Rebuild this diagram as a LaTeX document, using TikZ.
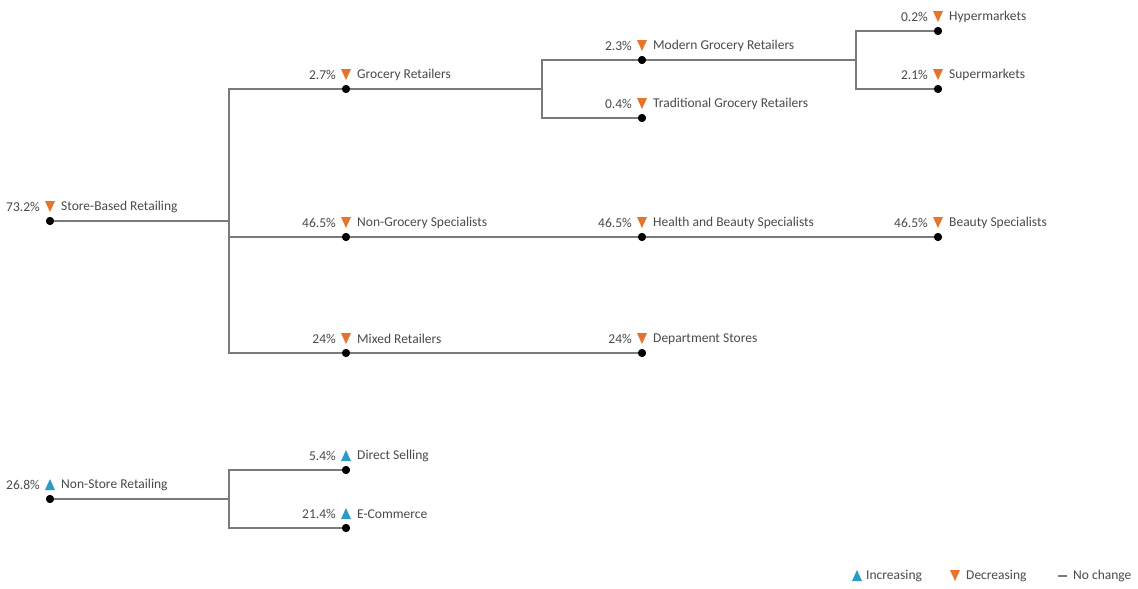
\documentclass[tikz,border=0pt]{standalone}
\usepackage{fontspec}
\setmainfont{Carlito}
\definecolor{decc}{HTML}{E8732A}
\definecolor{incc}{HTML}{2E9BC6}
\definecolor{linec}{HTML}{7A7A7A}
\definecolor{txtc}{HTML}{4A4A4A}
\newcommand\mkdown[1]{\fill[decc] (#1) ++(-5,-20) -- ++(10,0) -- ++(-5,11) -- cycle;}
\newcommand\mkup[1]{\fill[incc] (#1) ++(-5,-9) -- ++(10,0) -- ++(-5,-11) -- cycle;}
\newcommand\mklabel[3]{\path (#1) ++(-10,-14) node[pct]{#2} (#1) ++(11,-14) node[nm]{#3};}
\begin{document}
\begin{tikzpicture}[x=1pt,y=-1pt,
  dot/.style={circle,fill=black,inner sep=0pt,minimum size=8pt},
  conn/.style={draw=linec,line width=1.4pt},
  pct/.style={anchor=east,inner sep=0pt,text=txtc,font=\fontsize{13.5}{15}\selectfont},
  nm/.style={anchor=west,inner sep=0pt,text=txtc,font=\fontsize{13.5}{15}\selectfont}]
\useasboundingbox[fill=white] (0,0) rectangle (1138,589);
% branch coordinates
\coordinate (b0) at (229,221);
\coordinate (b1) at (542,89);
\coordinate (b2) at (856,60);
\coordinate (b3) at (229,499);
\node[dot] (sb) at (50,221) {};
\node[dot] (gr) at (346,89) {};
\node[dot] (ng) at (346,237) {};
\node[dot] (mr) at (346,353) {};
\node[dot] (mg) at (642,60) {};
\node[dot] (tg) at (642,118) {};
\node[dot] (hb) at (642,237) {};
\node[dot] (ds) at (642,353) {};
\node[dot] (hy) at (938,31) {};
\node[dot] (su) at (938,89) {};
\node[dot] (bs) at (938,237) {};
\node[dot] (ns) at (50,499) {};
\node[dot] (dsl) at (346,470) {};
\node[dot] (ec) at (346,528) {};
\draw[conn] (sb.center) -- (b0);
\draw[conn] (gr.center) -| (b0) |- (mr.center);
\draw[conn] (b0 |- ng) -- (ng.center) -- (hb.center) -- (bs.center);
\draw[conn] (mr.center) -- (ds.center);
\draw[conn] (gr.center) -- (b1);
\draw[conn] (mg.center) -| (b1) |- (tg.center);
\draw[conn] (mg.center) -- (b2);
\draw[conn] (hy.center) -| (b2) |- (su.center);
\draw[conn] (ns.center) -- (b3);
\draw[conn] (dsl.center) -| (b3) |- (ec.center);
% redraw dots on top
\foreach \n in {sb,gr,ng,mr,mg,tg,hb,ds,hy,su,bs,ns,dsl,ec} {\fill[black] (\n) circle (4);}
% markers and labels
\mkdown{sb}\mklabel{sb}{73.2\%}{Store-Based Retailing}
\mkdown{gr}\mklabel{gr}{2.7\%}{Grocery Retailers}
\mkdown{ng}\mklabel{ng}{46.5\%}{Non-Grocery Specialists}
\mkdown{mr}\mklabel{mr}{24\%}{Mixed Retailers}
\mkdown{mg}\mklabel{mg}{2.3\%}{Modern Grocery Retailers}
\mkdown{tg}\mklabel{tg}{0.4\%}{Traditional Grocery Retailers}
\mkdown{hb}\mklabel{hb}{46.5\%}{Health and Beauty Specialists}
\mkdown{ds}\mklabel{ds}{24\%}{Department Stores}
\mkdown{hy}\mklabel{hy}{0.2\%}{Hypermarkets}
\mkdown{su}\mklabel{su}{2.1\%}{Supermarkets}
\mkdown{bs}\mklabel{bs}{46.5\%}{Beauty Specialists}
\mkup{ns}\mklabel{ns}{26.8\%}{Non-Store Retailing}
\mkup{dsl}\mklabel{dsl}{5.4\%}{Direct Selling}
\mkup{ec}\mklabel{ec}{21.4\%}{E-Commerce}
% legend
\coordinate (l1) at (857,590);
\coordinate (l2) at (955,590);
\mkup{l1}
\node[nm] (li) at (866,576) {Increasing};
\mkdown{l2}
\node[nm] (ld) at (966,576) {Decreasing};
\draw[linec,line width=1.4pt] (1058,576) -- (1067,576);
\node[nm] (ln) at (1073,576) {No change};
\end{tikzpicture}
\end{document}
